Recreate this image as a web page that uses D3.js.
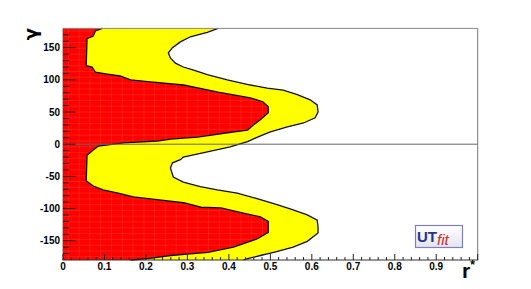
<!DOCTYPE html>
<html>
<head>
<meta charset="utf-8">
<script src="https://cdn.jsdelivr.net/npm/d3@7"></script>
<style>
  body { margin: 0; background: #fff; }
  svg { display: block; }
</style>
</head>
<body>
<script>
// contour of the inner (red) region: gamma in degrees, r* value at the edge
var gammaRed = [180, 176, 168, 164, 122, 120, 112, 109, 106, 100, 97, 92, 81, 72, 66, 58, 49, 38, 30, 22, 17, 11, 8, 5, 2,
  -3, -9, -17, -57, -65, -71, -76, -82, -85, -91, -98, -99, -107, -113, -120, -137, -147, -160, -168, -173, -178, -180];
var rRed = [0.095, 0.078, 0.073, 0.058, 0.056, 0.070, 0.078, 0.107, 0.138, 0.163, 0.211, 0.291, 0.374, 0.452, 0.482, 0.495, 0.495, 0.476, 0.459, 0.445, 0.388, 0.325, 0.260, 0.228, 0.146,
  0.085, 0.073, 0.058, 0.056, 0.073, 0.097, 0.133, 0.170, 0.211, 0.291, 0.333, 0.381, 0.435, 0.476, 0.495, 0.495, 0.469, 0.411, 0.350, 0.260, 0.204, 0.163];

// contour of the outer (yellow) region
var gammaYellow = [180, 174, 167, 159, 150, 142, 134, 126, 120, 115, 108, 100, 92, 87, 84, 77, 69, 61, 50, 41, 33, 27, 19, 11, 4,
  -4, -12, -20, -24, -29, -37, -51, -59, -66, -71, -76, -86, -94, -102, -110, -118, -129, -138, -151, -160, -168, -173, -178, -180];
var rYellow = [0.374, 0.348, 0.307, 0.283, 0.264, 0.254, 0.259, 0.271, 0.290, 0.315, 0.348, 0.396, 0.452, 0.492, 0.531, 0.565, 0.596, 0.613, 0.615, 0.608, 0.580, 0.541, 0.500, 0.469, 0.445,
  0.403, 0.348, 0.290, 0.283, 0.264, 0.259, 0.266, 0.290, 0.331, 0.372, 0.420, 0.476, 0.516, 0.555, 0.589, 0.613, 0.615, 0.615, 0.589, 0.555, 0.508, 0.476, 0.445, 0.435];

var xMajor = [0, 0.1, 0.2, 0.3, 0.4, 0.5, 0.6, 0.7, 0.8, 0.9];
var xLabels = ["0", "0.1", "0.2", "0.3", "0.4", "0.5", "0.6", "0.7", "0.8", "0.9"];
var yMajor = [-150, -100, -50, 0, 50, 100, 150];
var yLabels = ["-150", "-100", "-50", "0", "50", "100", "150"];

var width = 531;
var height = 289;

var svg = d3.select("body").append("svg")
    .attr("width", width)
    .attr("height", height);

var xScale = d3.scaleLinear().domain([0, 1]).range([63, 477.7]);
var yScale = d3.scaleLinear().domain([-180, 180]).range([260, 28.4]);

var red = gammaRed.map(function(g, i){ return {g: g, r: rRed[i]}; });
var yellow = gammaYellow.map(function(g, i){ return {g: g, r: rYellow[i]}; });

var area = d3.area()
    .y(function(d){ return yScale(d.g); })
    .x0(xScale(0))
    .x1(function(d){ return xScale(d.r); });

var edge = d3.line()
    .x(function(d){ return xScale(d.r); })
    .y(function(d){ return yScale(d.g); });

// yellow band
svg.append("path").datum(yellow)
    .attr("d", area)
    .attr("fill", "#ffff00");

// red region
svg.append("clipPath").attr("id", "redclip")
  .append("path").datum(red).attr("d", area);

svg.append("path").datum(red)
    .attr("d", area)
    .attr("fill", "#ff0000");

// faint bin lines showing through the red fill
var grid = svg.append("g").attr("clip-path", "url(#redclip)")
    .attr("stroke", "#ff9a60")
    .attr("stroke-width", 0.6)
    .attr("opacity", 0.3);

grid.selectAll("line.v")
    .data(d3.range(0.013, 0.5, 0.026))
    .enter().append("line")
        .attr("x1", function(d){ return xScale(d); })
        .attr("x2", function(d){ return xScale(d); })
        .attr("y1", yScale(180))
        .attr("y2", yScale(-180));

grid.selectAll("line.h")
    .data(d3.range(-175, 180, 9))
    .enter().append("line")
        .attr("y1", function(d){ return yScale(d); })
        .attr("y2", function(d){ return yScale(d); })
        .attr("x1", xScale(0))
        .attr("x2", xScale(0.5));

// contour lines
svg.append("path").datum(yellow)
    .attr("d", edge)
    .attr("fill", "none")
    .attr("stroke", "#111")
    .attr("stroke-width", 1.3);

svg.append("path").datum(red)
    .attr("d", edge)
    .attr("fill", "none")
    .attr("stroke", "#111")
    .attr("stroke-width", 1.3);

// gamma = 0 line
svg.append("line")
    .attr("x1", xScale(0)).attr("x2", xScale(1))
    .attr("y1", yScale(0)).attr("y2", yScale(0))
    .attr("stroke", "#666")
    .attr("stroke-width", 1);

// frame
svg.append("line")
    .attr("x1", xScale(0)).attr("x2", xScale(1))
    .attr("y1", yScale(180)).attr("y2", yScale(180))
    .attr("stroke", "#888");
svg.append("line")
    .attr("x1", xScale(1)).attr("x2", xScale(1))
    .attr("y1", yScale(180)).attr("y2", yScale(-180))
    .attr("stroke", "#777");
svg.append("line")
    .attr("x1", xScale(0)).attr("x2", xScale(0))
    .attr("y1", yScale(180)).attr("y2", yScale(-180))
    .attr("stroke", "#993322")
    .attr("stroke-width", 0.8);
svg.append("line")
    .attr("x1", xScale(0) - 0.5).attr("x2", xScale(1) + 0.5)
    .attr("y1", yScale(-180)).attr("y2", yScale(-180))
    .attr("stroke", "#333");

// y ticks (inside, pointing right)
var yMinor = d3.range(-170, 180, 10).filter(function(v){ return v % 50 !== 0; });
svg.selectAll("line.ymin")
    .data(yMinor)
    .enter().append("line")
        .attr("x1", xScale(0)).attr("x2", xScale(0) + 6)
        .attr("y1", function(d){ return yScale(d); })
        .attr("y2", function(d){ return yScale(d); })
        .attr("stroke", "#222");
svg.selectAll("line.ymaj")
    .data(yMajor)
    .enter().append("line")
        .attr("x1", xScale(0)).attr("x2", xScale(0) + 12.5)
        .attr("y1", function(d){ return yScale(d); })
        .attr("y2", function(d){ return yScale(d); })
        .attr("stroke", "#222");

svg.selectAll("text.ylab")
    .data(yMajor)
    .enter().append("text")
        .attr("x", 60)
        .attr("y", function(d){ return yScale(d); })
        .attr("dy", "0.36em")
        .attr("text-anchor", "end")
        .attr("font-family", "Liberation Sans, Arial, sans-serif")
        .attr("font-weight", "bold")
        .attr("font-size", 10)
        .text(function(d, i){ return yLabels[i]; });

// x ticks (inside, pointing up)
var xMinor = d3.range(0.02, 1, 0.02).filter(function(v){ return Math.abs(v * 10 - Math.round(v * 10)) > 1e-6; });
svg.selectAll("line.xmin")
    .data(xMinor)
    .enter().append("line")
        .attr("x1", function(d){ return xScale(d); })
        .attr("x2", function(d){ return xScale(d); })
        .attr("y1", yScale(-180)).attr("y2", yScale(-180) - 3)
        .attr("stroke", "#222");
svg.selectAll("line.xmaj")
    .data(xMajor.concat([1]))
    .enter().append("line")
        .attr("x1", function(d){ return xScale(d); })
        .attr("x2", function(d){ return xScale(d); })
        .attr("y1", yScale(-180)).attr("y2", yScale(-180) - 6)
        .attr("stroke", "#222");

svg.selectAll("text.xlab")
    .data(xMajor)
    .enter().append("text")
        .attr("x", function(d){ return xScale(d); })
        .attr("y", 269.5)
        .attr("text-anchor", "middle")
        .attr("font-family", "Liberation Sans, Arial, sans-serif")
        .attr("font-weight", "bold")
        .attr("font-size", 10)
        .text(function(d, i){ return xLabels[i]; });

// axis titles
svg.append("text")
    .attr("transform", "translate(37,34) rotate(-90)")
    .attr("text-anchor", "middle")
    .attr("font-family", "DejaVu Sans, sans-serif")
    .attr("font-weight", "bold")
    .attr("font-size", 18)
    .text("γ");

var rt = svg.append("text")
    .attr("x", 462)
    .attr("y", 278)
    .attr("font-family", "Liberation Sans, Arial, sans-serif")
    .attr("font-weight", "bold")
    .attr("font-size", 21);
rt.append("tspan").text("r");
rt.append("tspan").attr("dy", -9).attr("font-size", 12).text("*");

// UTfit logo
var defs = svg.append("defs");
var grad = defs.append("linearGradient").attr("id", "logo").attr("x1", 0).attr("y1", 0).attr("x2", 0).attr("y2", 1);
grad.append("stop").attr("offset", "0%").attr("stop-color", "#ffffff");
grad.append("stop").attr("offset", "100%").attr("stop-color", "#e4e4f0");

svg.append("rect")
    .attr("x", 415.5).attr("y", 225.5)
    .attr("width", 47).attr("height", 22)
    .attr("fill", "url(#logo)")
    .attr("stroke", "#8080b8")
    .attr("stroke-width", 1.2);
svg.append("text")
    .attr("x", 417).attr("y", 241.5)
    .attr("font-family", "Liberation Sans, Arial, sans-serif")
    .attr("font-weight", "bold")
    .attr("font-size", 15)
    .attr("fill", "#23348c")
    .text("UT");
svg.append("text")
    .attr("x", 437).attr("y", 245)
    .attr("font-family", "Liberation Sans, Arial, sans-serif")
    .attr("font-style", "italic")
    .attr("font-size", 15)
    .attr("fill", "#d42a2a")
    .text("fit");
</script>
</body>
</html>
